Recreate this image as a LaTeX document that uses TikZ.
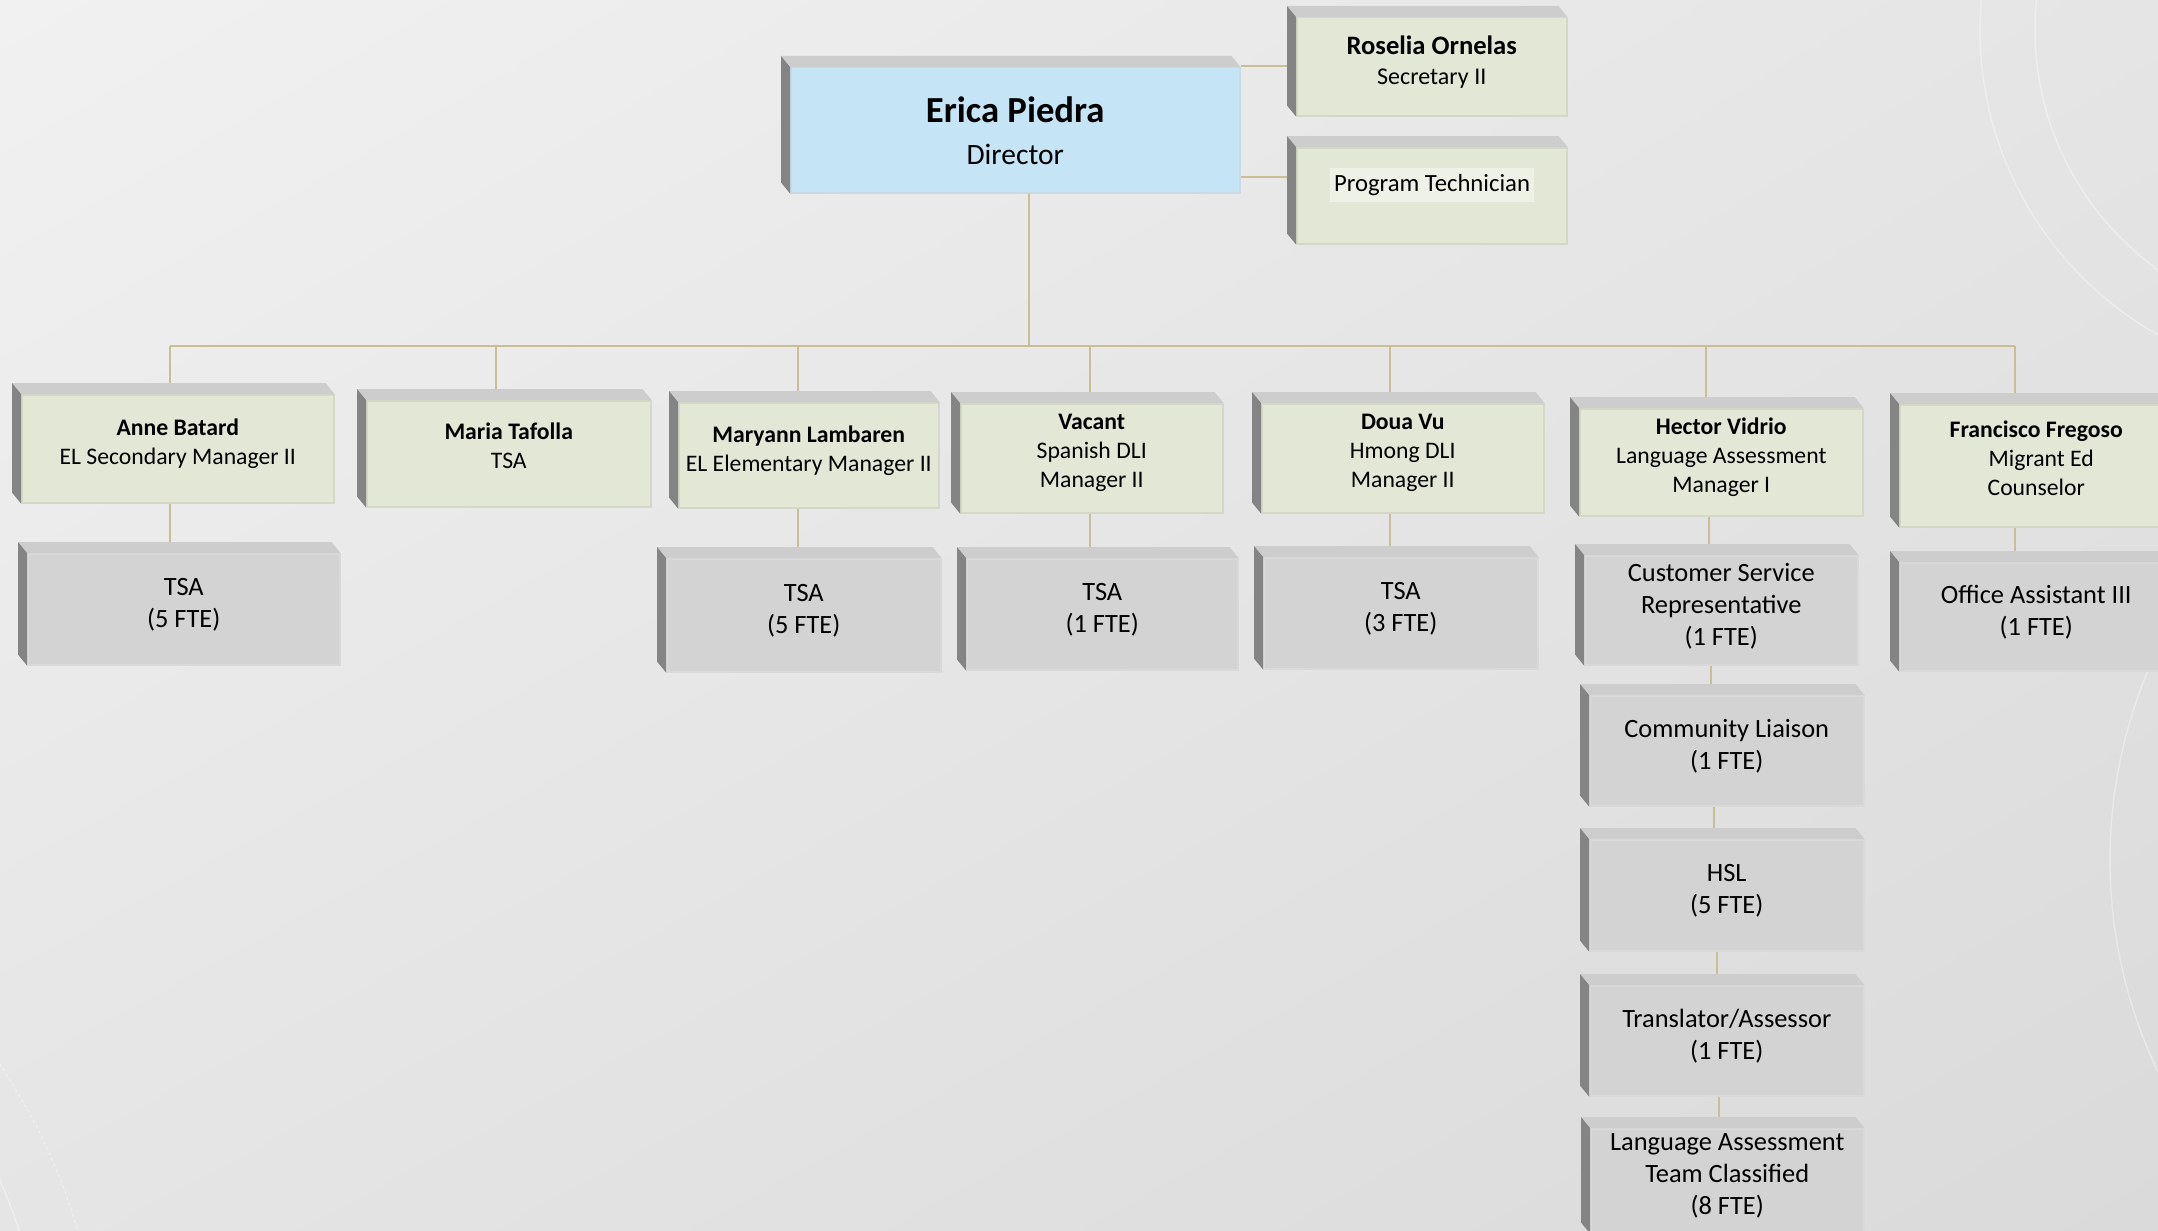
\documentclass[tikz,border=0pt]{standalone}
\usepackage{fontspec}
\setmainfont{Carlito}
\usetikzlibrary{calc,shadings}
\definecolor{frontg}{HTML}{E3E8D6}
\definecolor{edgeg}{HTML}{D4D8C7}
\definecolor{frontb}{HTML}{C5E4F6}
\definecolor{edgeb}{HTML}{CCD9E2}
\definecolor{grayf}{HTML}{D3D3D3}
\definecolor{graye}{HTML}{D9D9D9}
\definecolor{topf}{HTML}{CDCDCD}
\definecolor{sidef}{HTML}{848484}
\definecolor{connc}{HTML}{C9BE94}
\definecolor{hlc}{HTML}{EEF1E6}
\definecolor{bgA}{HTML}{F1F1F1}
\definecolor{bgM}{HTML}{E5E5E5}
\definecolor{bgB}{HTML}{DADADA}
\pgfdeclarelayer{bg}
\pgfsetlayers{bg,main}
\newcommand\bev[1]{%
  \fill[topf] (#1.north west) -- ($(#1.north west)+(-9,-11)$) -- ($(#1.north east)+(-9,-11)$) -- (#1.north east) -- cycle;
  \fill[sidef] (#1.north west) -- ($(#1.north west)+(-9,-11)$) -- ($(#1.south west)+(-9,-11)$) -- (#1.south west) -- cycle;}
\newcommand\rpad{\hspace*{10pt}}
\begin{document}
\begin{tikzpicture}[x=1pt,y=-1pt,
  box/.style={anchor=north west, inner sep=0pt, line width=1.5pt, align=center},
  lvtwo/.style={box, fill=frontg, draw=edgeg, text depth=14pt, font=\fontsize{23.7pt}{29pt}\selectfont},
  lvthree/.style={box, fill=grayf, draw=graye, text depth=12.5pt, font=\fontsize{26.4pt}{32pt}\selectfont},
  conn/.style={draw=connc, line width=2pt},
  deco/.style={draw=white, opacity=0.35, line width=1.5pt}]
\useasboundingbox (0,0) rectangle (2158,1231);
\begin{pgfonlayer}{bg}
  \shade[upper left=bgA, upper right=bgM, lower left=bgM, lower right=bgB] (0,0) rectangle (2158,1231);
  \draw[deco] (2330,30) circle[radius=350];
  \draw[deco] (2330,30) circle[radius=295];
  \draw[deco] (2600,860) circle[radius=490];
  \draw[deco, dashed] (-500,1400) circle[radius=602];
  \draw[deco] (-500,1400) circle[radius=546];
\end{pgfonlayer}

% top level
\node[box, fill=frontb, draw=edgeb, minimum width=449pt, minimum height=125pt,
      font=\fontsize{29.5pt}{42pt}\selectfont] (dir) at (790,67)
  {{\fontsize{36.7pt}{42pt}\selectfont\bfseries Erica Piedra}\\Director};
\node[lvtwo, minimum width=270pt, minimum height=98pt, font=\fontsize{24pt}{30pt}\selectfont] (rose) at (1296,17)
  {{\fontsize{26.6pt}{30pt}\selectfont\bfseries Roselia Ornelas}\\Secretary II};
\node[lvtwo, minimum width=270pt, minimum height=96pt] (pt) at (1296,147) {};
\node[fill=hlc, inner xsep=4pt, inner ysep=0pt, minimum height=34pt,
      font=\fontsize{24.7pt}{30pt}\selectfont] (ptlabel) at (1432,185) {Program Technician};

% second level
\node[lvtwo, minimum width=312pt, minimum height=108pt] (anne) at (21,394)
  {\textbf{Anne Batard}\\EL Secondary Manager II};
\node[lvtwo, minimum width=284pt, minimum height=106pt, text depth=16pt] (maria) at (366,400)
  {\textbf{Maria Tafolla}\\TSA};
\node[lvtwo, minimum width=260pt, minimum height=105pt] (mary) at (678,402)
  {\textbf{Maryann Lambaren}\\EL Elementary Manager II};
\node[lvtwo, minimum width=262pt, minimum height=109pt] (vac) at (960,403)
  {\textbf{Vacant}\\Spanish DLI\\Manager II};
\node[lvtwo, minimum width=282pt, minimum height=109pt] (doua) at (1261,403)
  {\textbf{Doua Vu}\\Hmong DLI\\Manager II};
\node[lvtwo, minimum width=283pt, minimum height=107pt] (hect) at (1579,408)
  {\textbf{Hector Vidrio}\\Language Assessment\\Manager I};
\node[lvtwo, minimum width=283pt, minimum height=122pt, text depth=16pt] (fran) at (1899,404)
  {\textbf{Francisco Fregoso}\rpad\\Migrant Ed\rpad\\Counselor\rpad};

% third level
\node[lvthree, minimum width=312pt, minimum height=111pt] (annetsa) at (27,553) {TSA\\(5 FTE)};
\node[lvthree, minimum width=274pt, minimum height=113pt] (marytsa) at (666,558) {TSA\\(5 FTE)};
\node[lvthree, minimum width=271pt, minimum height=111pt] (vactsa) at (966,558) {TSA\\(1 FTE)};
\node[lvthree, minimum width=274pt, minimum height=111pt] (douatsa) at (1263,557) {TSA\\(3 FTE)};
\node[lvthree, minimum width=273pt, minimum height=109pt] (csr) at (1584,555) {Customer Service\\Representative\\(1 FTE)};
\node[lvthree, minimum width=274pt, minimum height=110pt] (cl) at (1589,695) {Community Liaison\\(1 FTE)};
\node[lvthree, minimum width=274pt, minimum height=111pt] (hsl) at (1589,839) {HSL\\(5 FTE)};
\node[lvthree, minimum width=274pt, minimum height=110pt] (tr) at (1589,985) {Translator/Assessor\\(1 FTE)};
\node[lvthree, minimum width=273pt, minimum height=104pt] (lat) at (1590,1128) {Language Assessment\\Team Classified\\(8 FTE)};
\node[lvthree, minimum width=283pt, minimum height=108pt] (oa) at (1899,562) {Office Assistant III\rpad\\(1 FTE)\rpad};

% bevels
\foreach \n in {dir,rose,pt,anne,maria,mary,vac,doua,hect,fran,annetsa,marytsa,vactsa,douatsa,csr,cl,hsl,tr,lat,oa}{\bev{\n}}

% connectors
\begin{pgfonlayer}{bg}
  \coordinate (jd) at (1029,346);
  \coordinate (j1) at (170,346);
  \coordinate (j2) at (496,346);
  \coordinate (j3) at (798,346);
  \coordinate (j4) at (1090,346);
  \coordinate (j5) at (1390,346);
  \coordinate (j6) at (1706,346);
  \coordinate (j7) at (2015,346);
  \draw[conn] (j1) -- (j7);
  \draw[conn] (jd |- dir.south) -- (jd);
  \coordinate (rc) at ($(rose.west)+(-9,-1)$);
  \draw[conn] (dir.east |- rc) -- (rc);
  \coordinate (pc) at ($(pt.north west)+(-9,30)$);
  \draw[conn] (dir.east |- pc) -- (pc);
  \draw[conn] (j1) -- (j1 |- anne.north);
  \draw[conn] (j2) -- (j2 |- maria.north);
  \draw[conn] (j3) -- (j3 |- mary.north);
  \draw[conn] (j4) -- (j4 |- vac.north);
  \draw[conn] (j5) -- (j5 |- doua.north);
  \draw[conn] (j6) -- (j6 |- hect.north);
  \draw[conn] (j7) -- (j7 |- fran.north);
  \draw[conn] (j1 |- anne.south) -- (j1 |- annetsa.north);
  \draw[conn] (j3 |- mary.south) -- (j3 |- marytsa.north);
  \draw[conn] (j4 |- vac.south) -- (j4 |- vactsa.north);
  \draw[conn] (j5 |- doua.south) -- (j5 |- douatsa.north);
  \draw[conn] (j7 |- fran.south) -- (j7 |- oa.north);
  \coordinate (k1) at (1709,0);
  \coordinate (k2) at (1711,0);
  \coordinate (k3) at (1714,0);
  \coordinate (k4) at (1717,0);
  \coordinate (k5) at (1719,0);
  \draw[conn] (k1 |- hect.south) -- (k1 |- csr.north);
  \draw[conn] (k2 |- csr.south) -- (k2 |- cl.north);
  \draw[conn] (k3 |- cl.south) -- (k3 |- hsl.north);
  \draw[conn] (k4 |- hsl.south) -- (k4 |- tr.north);
  \draw[conn] (k5 |- tr.south) -- (k5 |- lat.north);
\end{pgfonlayer}
\end{tikzpicture}
\end{document}
